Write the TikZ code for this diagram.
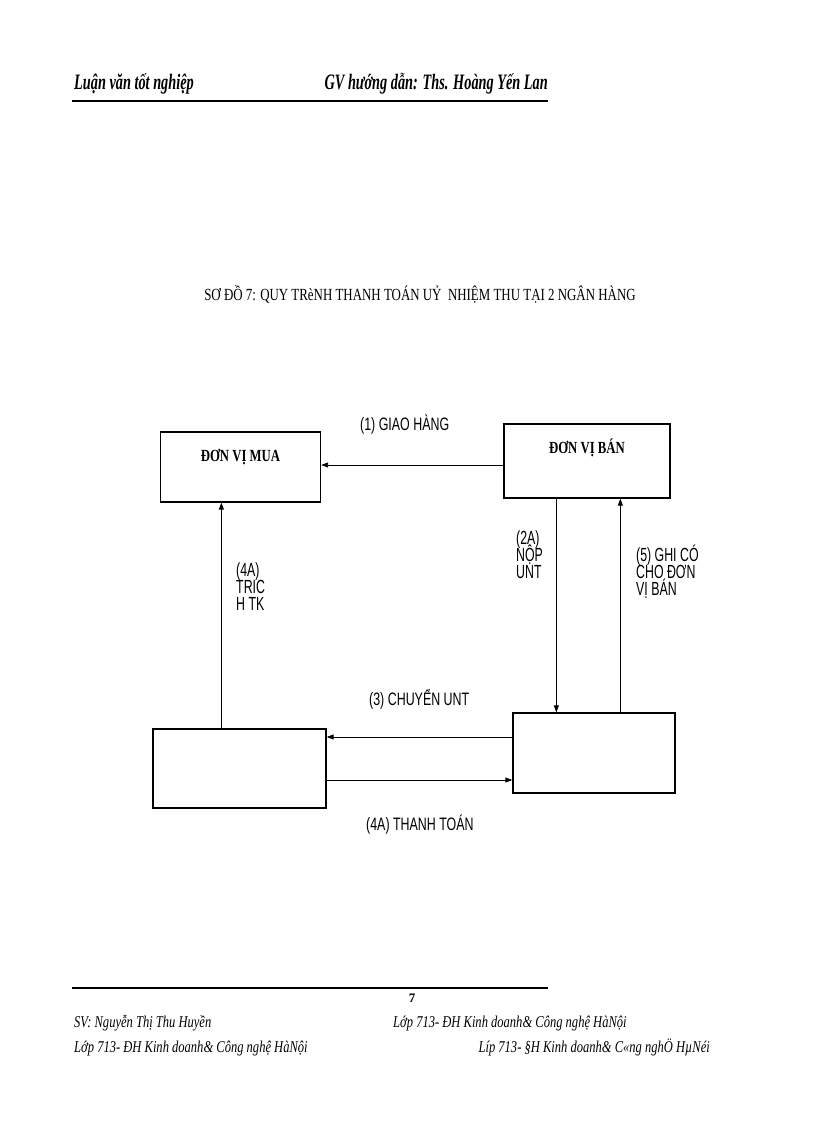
\documentclass[tikz,border=0pt]{standalone}
\usepackage{fontspec}
\setmainfont{Liberation Serif}
\newfontfamily\headfont[FakeStretch=0.65]{Liberation Serif}
\newfontfamily\titlefont[FakeStretch=0.76]{Liberation Serif}
\newfontfamily\boxfont[FakeStretch=0.75]{Liberation Serif}
\newfontfamily\footfont[FakeStretch=0.76]{Liberation Serif}
\newfontfamily\narrowsans[FakeStretch=0.69]{Liberation Sans}
\newfontfamily\tallsans[FakeStretch=0.65]{Liberation Sans}
\newcommand\tightlines{\lineskiplimit=-20pt\relax}
\usetikzlibrary{arrows.meta}
\tikzset{>={Triangle[length=7pt,width=5pt]}}
\tikzset{
  unitbox/.style={draw, line width=1.3pt, inner sep=0pt},
  boxtext/.style={inner sep=0pt, anchor=base, font=\boxfont\bfseries\fontsize{17}{17}\selectfont},
  flowlabel/.style={inner sep=0pt, anchor=base west, font=\narrowsans\fontsize{18}{18}\selectfont},
  sidelabel/.style={inner sep=0pt, anchor=north west, align=left,
    font=\tallsans\fontsize{19}{17}\selectfont\tightlines},
  headtext/.style={inner sep=0pt, font=\headfont\bfseries\itshape\fontsize{22}{22}\selectfont},
  foottext/.style={inner sep=0pt, font=\footfont\itshape\fontsize{16.5}{16.5}\selectfont},
  flow/.style={->, line width=0.9pt}
}
\begin{document}
\begin{tikzpicture}[x=1pt,y=-1pt]
        \useasboundingbox (0,0) rectangle (816,1123);

        %header
        \node[headtext, anchor=base west] (luan) at (74,90) {Luận văn tốt nghiệp};
        \node[headtext, anchor=base east] (gv) at (548,90) {GV hướng dẫn: Ths. Hoàng Yến Lan};
        \draw[line width=1.8pt] (72,101) -- (548,101);

        %title
        \node[inner sep=0pt, anchor=base, font=\titlefont\fontsize{17}{17}\selectfont] (title) at (420,300)
          {SƠ ĐỒ 7: QUY TRèNH THANH TOÁN UỶ\ \ NHIỆM THU TẠI 2 NGÂN HÀNG};

        %units
        \node[unitbox, minimum width=160pt, minimum height=70pt] (mua) at (240.5,467) {};
        \node[unitbox, minimum width=166pt, minimum height=74pt] (ban) at (587,461) {};
        \node[boxtext] (muat) at ([yshift=-30pt]mua.north) {ĐƠN VỊ MUA};
        \node[boxtext] (bant) at ([yshift=-30pt]ban.north) {ĐƠN VỊ BÁN};

        %banks
        \node[unitbox, minimum width=173pt, minimum height=79pt] (nhmua) at (239.5,768.5) {};
        \node[unitbox, minimum width=162pt, minimum height=80pt] (nhban) at (594,753) {};

        %(1) giao hang
        \draw[flow] ([yshift=-4pt]ban.west) -- ([yshift=-4pt]ban.west -| mua.east);
        \node[flowlabel] (l1) at (360,430) {(1) GIAO HÀNG};

        %(2A) nop UNT
        \draw[flow] ([xshift=53pt]ban.south west) -- ([xshift=53pt]ban.south west |- nhban.north);
        \node[sidelabel] (l2) at (516,531) {(2A)\\NỘP\\UNT};

        %(5) ghi co
        \draw[flow] ([xshift=117pt]ban.south west |- nhban.north) -- ([xshift=117pt]ban.south west);
        \node[sidelabel] (l5) at (636,545) {(5) GHI CÓ\\CHO ĐƠN\\VỊ BÁN};

        %(4A) trich TK
        \draw[flow] ([xshift=69pt]nhmua.north west) -- ([xshift=69pt]nhmua.north west |- mua.south);
        \node[sidelabel] (l4) at (236,563) {(4A)\\TRIC\\H TK};

        %(3) chuyen UNT
        \draw[flow] ([yshift=16pt]nhban.west) -- ([yshift=16pt]nhban.west -| nhmua.east);
        \node[flowlabel] (l3) at (369,705) {(3) CHUYỂN UNT};

        %(4A) thanh toan
        \draw[flow] ([yshift=-11.5pt]nhmua.east) -- ([yshift=-11.5pt]nhmua.east -| nhban.west);
        \node[flowlabel] (l4b) at (366,830) {(4A) THANH TOÁN};

        %footer
        \draw[line width=1.8pt] (72,988) -- (548,988);
        \node[inner sep=0pt, anchor=base, font=\bfseries\fontsize{13}{13}\selectfont] (page) at (412,1002) {7};
        \node[foottext, anchor=base west] (sv) at (74,1027) {SV: Nguyễn Thị Thu Huyền};
        \node[foottext, anchor=base west] (lop1) at (393,1027) {Lớp 713- ĐH Kinh doanh\& Công nghệ HàNội};
        \node[foottext, anchor=base west] (lop2) at (74,1052) {Lớp 713- ĐH Kinh doanh\& Công nghệ HàNội};
        \node[foottext, anchor=base east] (lop3) at (710,1052) {Líp 713- §H Kinh doanh\& C«ng nghÖ HµNéi};

\end{tikzpicture}
\end{document}
